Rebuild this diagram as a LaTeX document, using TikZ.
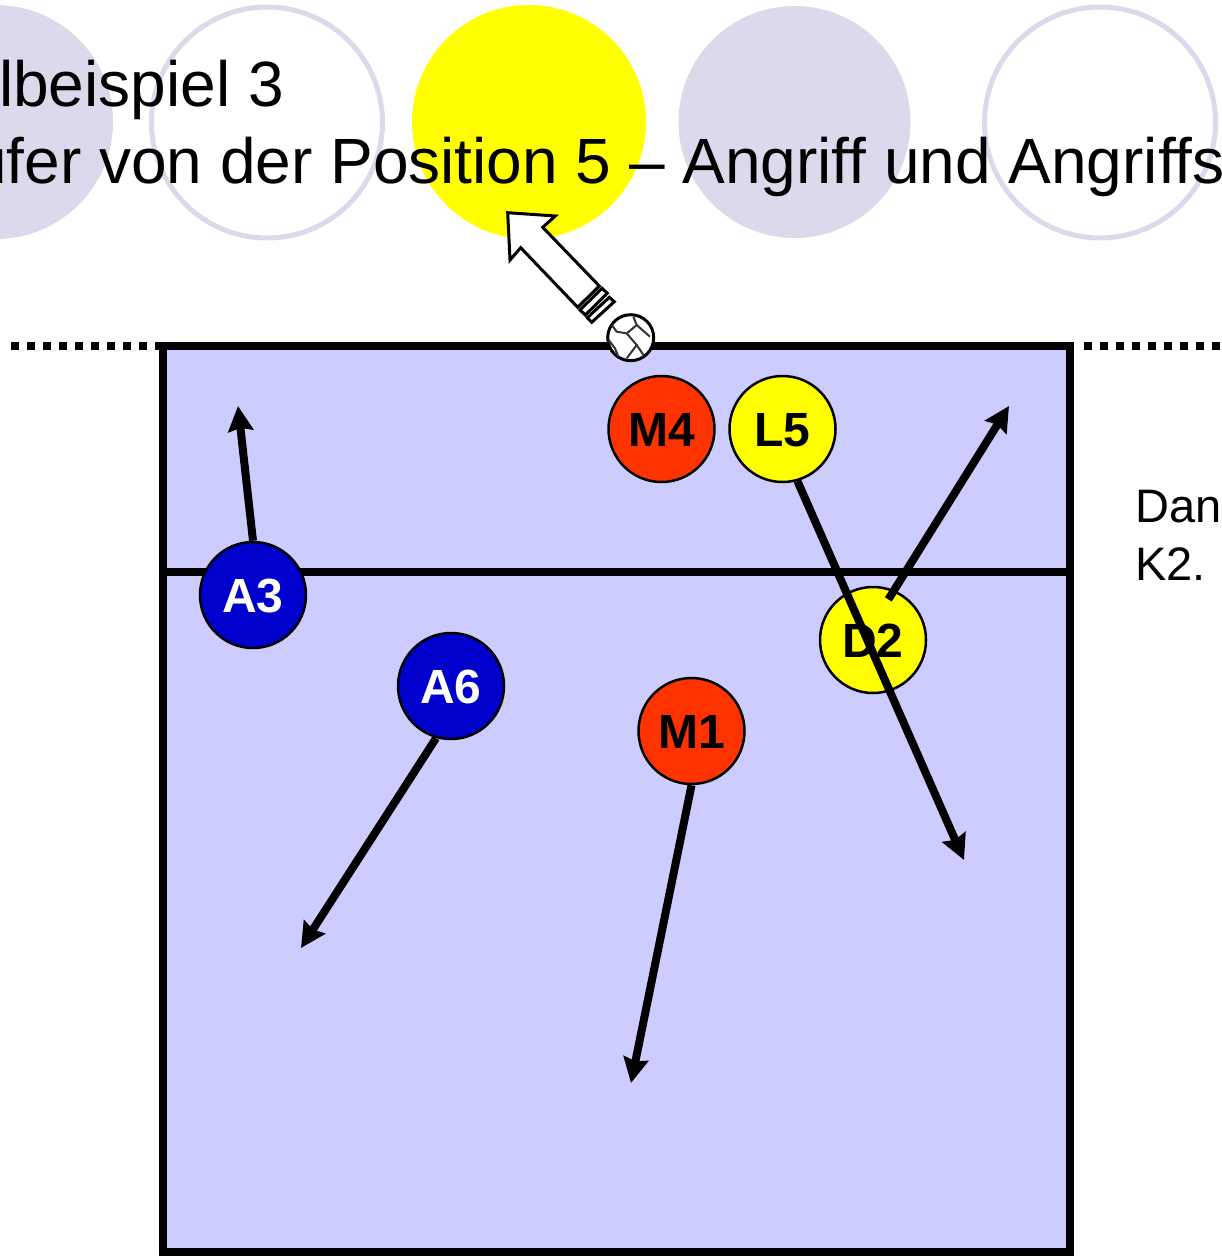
\documentclass[tikz,border=0pt]{standalone}
\usepackage{fontspec}
\setmainfont{Liberation Sans}
\usetikzlibrary{arrows.meta}
\definecolor{mycourt}{RGB}{204,204,255}
\definecolor{mycircle}{RGB}{218,218,236}
\definecolor{myred}{RGB}{255,51,0}
\definecolor{myblue}{RGB}{0,0,204}
\definecolor{myyellow}{RGB}{255,255,0}

\begin{document}
\begin{tikzpicture}[x=1pt,y=-1pt,
discfill/.style={circle,fill=mycircle,inner sep=0pt,minimum size=234pt},
discopen/.style={circle,draw=mycircle,line width=5pt,inner sep=0pt,minimum size=231pt},
title/.style={anchor=base west,inner sep=0pt,font=\fontsize{64}{64}\selectfont},
side/.style={anchor=base west,inner sep=0pt,font=\fontsize{47}{47}\selectfont},
redp/.style={
  circle,
  draw=black,
  line width=2.5pt,
  fill=myred,
  inner sep=0pt,
  minimum size=106pt,
  text height=35.4pt,
  text depth=0pt,
  font={\fontsize{48}{48}\selectfont\bfseries}},
bluep/.style={redp,fill=myblue,text=white},
yellowp/.style={redp,fill=myyellow},
run/.style={line width=8pt,-{Stealth[length=25pt,width=25pt,inset=3pt]}},
hit/.style={draw=black,fill=white,line width=3pt,line join=miter},
]
\useasboundingbox (0,0) rectangle (1221,1260);
\clip (0,0) rectangle (1221,1260);
% circles
\node[discfill] (C1) at (-4,122) {};
\node[discopen] (C2) at (267,122.5) {};
\node[discfill,fill=myyellow] (C3) at (529,122) {};
\node[discfill,minimum size=232pt] (C4) at (794.5,122) {};
\node[discopen] (C5) at (1100,122.5) {};
% title
\node[title] (T1) at (-1,107) {lbeispiel 3};
\node[title] (T2) at (-29,184) {ufer von der Position 5 – Angriff und Angriffs};
\node[side] (S1) at (1135,522) {Dan};
\node[side] (S2) at (1135,580) {K2.};
% court
\draw[line width=8pt,fill=mycourt] (162.5,345.5) rectangle (1070,1252);
\draw[line width=8pt] (162.5,572) -- (1070,572);
\draw[line width=8pt,dash pattern=on 8pt off 8pt] (11,345.5) -- (160,345.5);
\draw[line width=8pt,dash pattern=on 8pt off 8pt] (1084,345.5) -- (1221,345.5);
% players
\node[redp] (M4) at (661.5,429) {M4};
\node[yellowp] (L5) at (782.5,429) {L5};
\node[bluep] (A3) at (253,595) {A3};
\node[bluep] (A6) at (451,686) {A6};
\node[redp] (M1) at (691.5,731) {M1};
\node[yellowp] (D2) at (873,640) {D2};
\coordinate (endA3) at (238,406);
\coordinate (endA6) at (301,948);
\coordinate (endM1) at (631,1083);
\coordinate (endL5) at (964,860);
\coordinate (endD2) at (1009,406);
\draw[run] (A3.north) -- (endA3);
\draw[run] (A6.-106) -- (endA6);
\draw[run] (M1.south) -- (endM1);
\draw[run] (L5.-74) -- (endL5);
\draw[run,shorten <=-11pt] (D2.67) -- (endD2);
% ball direction
\draw[hit] (507.7,212.7) -- (555.3,216) -- (542.7,227.3) -- (599.3,286) -- (577.7,307.3)
  -- (520.7,247.7) -- (510,260) -- cycle;
\draw[hit] (602,288.3) -- (607.3,293.3) -- (585.3,315) -- (580,310) -- cycle;
\draw[hit] (609.3,297.3) -- (614.3,301.7) -- (591.7,322.3) -- (587.3,317.7) -- cycle;
% ball
\node[circle,draw=black,line width=3pt,fill=white,inner sep=0pt,minimum size=46pt] (ball) at (630.7,337.7) {};
\begin{scope}[shift={(630.7,337.7)},line width=2pt,draw=black!80]
\draw (2.7,-21) -- (6,-12.7) -- (-4,-4.3) -- (-14,-6) -- (-19,-12.7);
\draw (6,-12.7) -- (19.3,-1);
\draw (-4,-4.3) -- (6,7.3) -- (-4,20.7);
\draw (-22,2.3) -- (-15.7,10.7) -- (-12.3,19);
\draw (6,7.3) -- (12.7,17.3);
\end{scope}
\end{tikzpicture}
\end{document}
